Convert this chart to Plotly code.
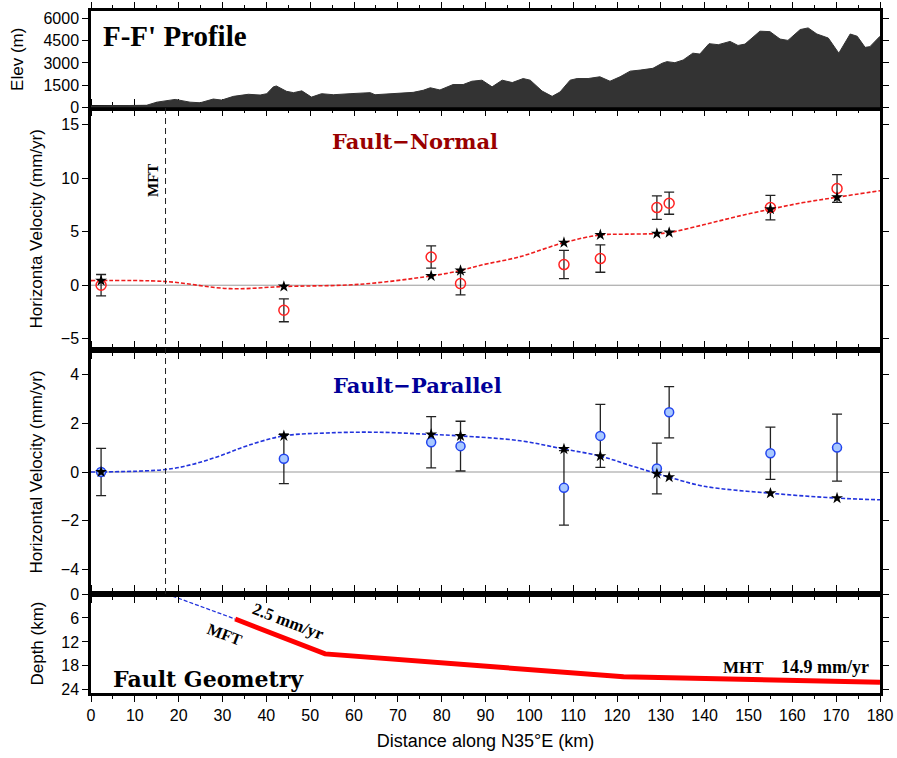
import plotly.graph_objects as go

# ---------------- data ----------------
elev_km = [0, 12.7, 15.0, 19.2, 22.6, 24.9, 27.9, 29.8, 32.5, 35.9, 38.6, 40.1, 41.6, 42.3,
           44.6, 46.2, 48.1, 50.3, 52.6, 55.3, 59.1, 63.7, 64.8, 68.2, 73.5, 75.8, 77.4,
           79.6, 82.6, 84.9, 86.9, 89.2, 91.5, 93.8, 96.1, 98.6, 100.2, 102.9, 105.2, 107.0,
           109.3, 110.9, 113.4, 116.1, 118.4, 120.7, 123.0, 125.3, 128.2, 130.3, 131.4,
           133.2, 135.1, 137.3, 138.9, 141.0, 143.1, 145.8, 147.6, 149.2, 152.6, 154.9,
           157.2, 159.0, 161.8, 163.6, 165.6, 168.2, 170.6, 173.2, 174.8, 176.6, 177.7, 180.0]
elev_m = [100, 150, 360, 545, 360, 320, 570, 500, 750, 890, 840, 930, 1390, 1450,
          1090, 1000, 1120, 700, 930, 860, 930, 1000, 860, 930, 1020, 1160, 1330,
          1180, 1545, 1545, 1770, 1840, 1390, 1840, 1680, 1950, 1840, 1110, 750, 1045,
          1840, 1950, 1950, 2070, 1770, 2070, 2450, 2520, 2640, 2980, 3090,
          3020, 3200, 3660, 3600, 4300, 4230, 4450, 4180, 4270, 5140, 5110,
          4610, 4520, 5250, 5360, 4950, 4680, 3660, 4950, 4800, 4050, 4100, 4800]

station_km = [2.3, 44.0, 77.6, 84.3, 107.9, 116.2, 129.1, 131.9, 155.0, 170.2]

fn_obs = [0.0, -2.34, 2.64, 0.15, 1.93, 2.49, 7.25, 7.66, 7.25, 9.03]
fn_err = [1.0, 1.07, 1.04, 1.05, 1.32, 1.28, 1.1, 1.03, 1.15, 1.3]
fn_mod_sta = [0.43, -0.12, 0.87, 1.37, 3.98, 4.7, 4.82, 4.92, 7.1, 8.22]

fp_obs = [0.0, 0.54, 1.22, 1.06, -0.65, 1.48, 0.14, 2.45, 0.77, 1.0]
fp_err = [0.97, 1.02, 1.05, 1.02, 1.53, 1.29, 1.04, 1.05, 1.07, 1.37]
fp_mod_sta = [0.0, 1.48, 1.54, 1.48, 0.94, 0.65, -0.07, -0.21, -0.87, -1.07]

fn_curve_km = [0, 16.9, 31.7, 44.0, 61.4, 77.6, 84.3, 88.7, 97.9, 107.9, 116.2, 122.2,
               129.1, 131.9, 139.7, 147.3, 155.0, 162.5, 170.2, 180.0]
fn_curve_v = [0.43, 0.35, -0.32, -0.12, 0.09, 0.87, 1.37, 1.85, 2.67, 3.98, 4.7, 4.77,
              4.82, 4.92, 5.64, 6.41, 7.1, 7.72, 8.22, 8.83]

fp_curve_km = [0, 16.9, 23.3, 29.4, 35.5, 44.0, 53.8, 65.2, 77.6, 84.3, 97.9, 107.9,
               116.2, 123.0, 129.1, 131.9, 139.7, 155.0, 170.2, 180.0]
fp_curve_v = [0.0, 0.1, 0.32, 0.66, 1.07, 1.48, 1.6, 1.63, 1.54, 1.48, 1.28, 0.94,
              0.65, 0.27, -0.07, -0.21, -0.58, -0.87, -1.07, -1.14]

ramp_km = [17.3, 32.9]
ramp_depth = [0.0, 6.27]
fault_km = [32.9, 53.4, 88.8, 100.2, 121.5, 180.0]
fault_depth = [6.27, 15.0, 18.0, 19.0, 20.7, 22.1]

mft_km = 17.0

x_ticks = list(range(0, 181, 10))
elev_ticks = [0, 1500, 3000, 4500, 6000]
fn_ticks = [-5, 0, 5, 10, 15]
fp_ticks = [-4, -2, 0, 2, 4]
depth_ticks = [0, 6, 12, 18, 24]

# ---------------- layout helpers ----------------
W, H = 897, 758
L, R, T, B = 91, 17, 11, 65
PW, PH = W - L - R, H - T - B


def fx(p):
    return (p - L) / PW


def fy(p):
    return (H - B - p) / PH


dom_depth = [0, fy(594)]
dom_fp = [fy(594), fy(350)]
dom_fn = [fy(350), fy(107.5)]
dom_top = [fy(107.5), 1]

SANS = "Liberation Sans, Arial, sans-serif"
SERIF = "Liberation Serif, Times New Roman, serif"
SLAB = "DejaVu Serif, serif"

fig = go.Figure()

# elevation
fig.add_trace(go.Scatter(x=elev_km, y=elev_m, mode="lines", fill="tozeroy",
                         fillcolor="#333333", line=dict(color="#333333", width=1),
                         xaxis="x4", yaxis="y4", hoverinfo="skip"))

# fault-normal
fig.add_trace(go.Scatter(x=fn_curve_km, y=fn_curve_v, mode="lines",
                         line=dict(color="#ee1c1c", width=1.6, dash="4px,2px", shape="spline"),
                         xaxis="x3", yaxis="y3"))
fig.add_trace(go.Scatter(x=station_km, y=fn_obs, mode="markers",
                         marker=dict(symbol="circle-open", size=10, color="#ff2222",
                                     line=dict(width=1.5, color="#ff2222")),
                         error_y=dict(type="data", array=fn_err, color="#222222",
                                      thickness=1.3, width=5),
                         xaxis="x3", yaxis="y3"))
fig.add_trace(go.Scatter(x=station_km, y=fn_mod_sta, mode="markers",
                         marker=dict(symbol="star", size=9, color="black"),
                         xaxis="x3", yaxis="y3"))

# fault-parallel
fig.add_trace(go.Scatter(x=fp_curve_km, y=fp_curve_v, mode="lines",
                         line=dict(color="#2233dd", width=1.6, dash="4px,2px", shape="spline"),
                         xaxis="x2", yaxis="y2"))
fig.add_trace(go.Scatter(x=station_km, y=fp_obs, mode="markers",
                         marker=dict(symbol="circle", size=9, color="#a8c8ff",
                                     line=dict(width=1.5, color="#2244ee")),
                         error_y=dict(type="data", array=fp_err, color="#222222",
                                      thickness=1.3, width=5),
                         xaxis="x2", yaxis="y2"))
fig.add_trace(go.Scatter(x=station_km, y=fp_mod_sta, mode="markers",
                         marker=dict(symbol="star", size=9, color="black"),
                         xaxis="x2", yaxis="y2"))

# fault geometry
fig.add_trace(go.Scatter(x=ramp_km, y=ramp_depth, mode="lines",
                         line=dict(color="#2233dd", width=1.3, dash="4px,2px"),
                         xaxis="x", yaxis="y"))
fig.add_trace(go.Scatter(x=fault_km, y=fault_depth, mode="lines",
                         line=dict(color="#ff0000", width=5),
                         xaxis="x", yaxis="y"))

# ---------------- axes ----------------
common_x = dict(range=[0, 180], showgrid=False, zeroline=False, showline=True,
                linecolor="black", linewidth=2.5, mirror="ticks", ticks="outside",
                ticklen=6, tickwidth=1.3, tickcolor="black", tickvals=x_ticks,
                automargin=False,
                minor=dict(dtick=5, ticks="outside", ticklen=3, tickwidth=1.2, tickcolor="black"),
                tickfont=dict(family=SANS, size=16, color="black"))
common_y = dict(showgrid=False, zeroline=False, showline=True, linecolor="black",
                linewidth=2.5, mirror="ticks", ticks="outside", ticklen=6, tickwidth=1.3,
                tickcolor="black", automargin=False,
                tickfont=dict(family=SANS, size=16, color="black"),
                title_font=dict(family=SANS, size=17, color="black"))

fig.update_layout(
    width=W, height=H, margin=dict(l=L, r=R, t=T, b=B),
    plot_bgcolor="white", paper_bgcolor="white", showlegend=False,
    xaxis=dict(common_x, anchor="y", showticklabels=True,
               title=dict(text="Distance along N35°E (km)",
                          font=dict(family=SANS, size=18, color="black"), standoff=12)),
    xaxis2=dict(common_x, anchor="y2", matches="x", showticklabels=False),
    xaxis3=dict(common_x, anchor="y3", matches="x", showticklabels=False),
    xaxis4=dict(common_x, anchor="y4", matches="x", showticklabels=False),
    yaxis=dict(common_y, domain=dom_depth, range=[24.8, 0], tickvals=depth_ticks,
               title=dict(text="Depth (km)", standoff=14)),
    yaxis2=dict(common_y, domain=dom_fp, range=[-5, 5], tickvals=fp_ticks,
                title=dict(text="Horizontal Velocity (mm/yr)", standoff=14)),
    yaxis3=dict(common_y, domain=dom_fn, range=[-6.05, 16.6], tickvals=fn_ticks,
                title=dict(text="Horizonta Velocity (mm/yr)", standoff=14)),
    yaxis4=dict(common_y, domain=dom_top, range=[0, 6500], tickvals=elev_ticks,
                title=dict(text="Elev (m)", standoff=16)),
)

# zero lines and MFT line
fig.add_shape(type="line", xref="x3 domain", yref="y3", x0=0, x1=1, y0=0, y1=0,
              line=dict(color="#999999", width=1), layer="below")
fig.add_shape(type="line", xref="x2 domain", yref="y2", x0=0, x1=1, y0=0, y1=0,
              line=dict(color="#cccccc", width=2), layer="below")
fig.add_shape(type="line", xref="x3", yref="paper", x0=mft_km, x1=mft_km,
              y0=dom_fp[0], y1=dom_fn[1],
              line=dict(color="#222222", width=1, dash="6px,4px"))

# ---------------- annotations ----------------
def ann(text, xp, yp, family, size, color="black", angle=0, bold=True, xanchor="center"):
    fig.add_annotation(text=text, x=fx(xp), y=fy(yp), xref="paper", yref="paper",
                       showarrow=False, textangle=angle, xanchor=xanchor, yanchor="middle",
                       font=dict(family=family, size=size, color=color,
                                 weight="bold" if bold else "normal"))


ann("F-F' Profile", 175, 36, SERIF, 29)
ann("Fault\u2212Normal", 415, 141, SLAB, 21, color="#990000")
ann("Fault\u2212Parallel", 417, 386, SLAB, 21, color="#000099")
ann("MFT", 153, 181, SERIF, 15, angle=-90)
ann("Fault Geometry", 208, 679, SLAB, 22)
ann("MFT", 225, 634, SERIF, 16, angle=21)
ann("2.5 mm/yr", 288, 621, SERIF, 17, angle=21)
ann("MHT", 743, 667, SERIF, 17)
ann("14.9 mm/yr", 825, 667, SERIF, 18)

fig.write_html("out.html")
